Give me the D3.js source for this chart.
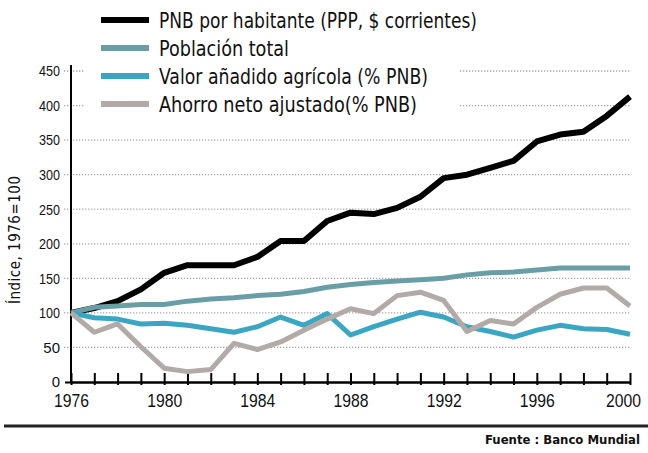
<!DOCTYPE html>
<html>
<head>
<meta charset="utf-8">
<script src="https://cdn.jsdelivr.net/npm/d3@7"></script>
<style>
  body { margin: 0; background: #fff; }
  svg { display: block; font-family: 'Liberation Sans Narrow', 'DejaVu Sans Condensed', sans-serif; }
</style>
</head>
<body>
<div id="chart"></div>
<script>
// data (index, 1976 = 100)
var years = [1976,1977,1978,1979,1980,1981,1982,1983,1984,1985,1986,1987,1988,1989,1990,1991,1992,1993,1994,1995,1996,1997,1998,1999,2000];
var pnb = [100,107,117,134,158,169,169,169,181,204,204,233,245,243,252,268,295,300,310,320,348,358,362,385,413];
var poblacion = [100,108,110,112,112,117,120,122,125,127,131,137,141,144,146,148,150,155,158,159,162,165,165,165,165];
var valor = [100,93,91,84,85,82,77,72,80,94,82,99,68,80,91,101,94,80,73,65,75,82,77,76,69];
var ahorro = [100,72,84,51,20,15,18,56,47,58,75,91,106,99,125,130,118,73,89,84,108,127,136,136,110];
var yTicks = [0,50,100,150,200,250,300,350,400,450];
var xLabels = [1976,1980,1984,1988,1992,1996,2000];

var series = [
  {name: "PNB por habitante (PPP, $ corrientes)", values: pnb, color: "#000", width: 6, tl: 318},
  {name: "Población  total", values: poblacion, color: "#6a9ea7", width: 5, tl: 130},
  {name: "Valor añadido agrícola (% PNB)", values: valor, color: "#3ba6c2", width: 5, tl: 269},
  {name: "Ahorro neto ajustado(% PNB)", values: ahorro, color: "#b2aaa7", width: 5, tl: 258}
];

var W = 648, H = 453;
var svg = d3.select("#chart").append("svg")
    .attr("width", W)
    .attr("height", H);

var x = d3.scaleLinear().domain([1976, 2000]).range([71, 630]);
var y = d3.scaleLinear().domain([0, 450]).range([382, 71]);

// dotted gridlines
svg.append("g").selectAll("line")
    .data(yTicks.filter(function(d) { return d > 0; }))
    .enter().append("line")
    .attr("x1", 64).attr("x2", 630)
    .attr("y1", function(d) { return y(d); })
    .attr("y2", function(d) { return y(d); })
    .attr("stroke", "#a8a8a8")
    .attr("stroke-width", 1.3)
    .attr("stroke-dasharray", "1.3,1.7");

// y axis
var yAxis = svg.append("g")
    .attr("transform", "translate(71,0)")
    .call(d3.axisLeft(y).tickValues(yTicks).tickSize(6).tickPadding(5));
yAxis.select(".domain").remove();
yAxis.selectAll(".tick line").attr("stroke", function(d) { return d === 0 ? "#000" : "none"; }).attr("stroke-width", 2);
yAxis.selectAll("text").style("font-size", "15px").attr("fill", "#111").style("font-family", null)
    .attr("textLength", 21).attr("lengthAdjust", "spacingAndGlyphs");
yAxis.selectAll("text").filter(function(d) { return d < 100; }).attr("textLength", null);
svg.append("line")
    .attr("x1", 71).attr("x2", 71)
    .attr("y1", 65).attr("y2", 383)
    .attr("stroke", "#000").attr("stroke-width", 2);

// x axis
var xAxis = svg.append("g")
    .attr("transform", "translate(0,382)")
    .call(d3.axisBottom(x).tickValues(years).tickSizeInner(-9).tickSizeOuter(0).tickPadding(12)
      .tickFormat(function(d) { return xLabels.indexOf(d) >= 0 ? d : ""; }));
xAxis.select(".domain").attr("stroke", "#000").attr("stroke-width", 2.5);
xAxis.selectAll(".tick line").attr("y1", 3).attr("stroke", "#000").attr("stroke-width", 2);
xAxis.selectAll("text").style("font-size", "19px").attr("fill", "#111").style("font-family", null)
    .attr("textLength", function(d) { return xLabels.indexOf(d) >= 0 ? 35 : null; })
    .attr("lengthAdjust", "spacingAndGlyphs")
    .attr("dx", function(d) { return d === 2000 ? -7 : 0; });

// axis title
svg.append("text")
    .attr("transform", "translate(20,240) rotate(-90)")
    .attr("text-anchor", "middle")
    .attr("textLength", 128)
    .attr("lengthAdjust", "spacing")
    .style("font-size", "15px")
    .attr("fill", "#111")
    .text("Índice, 1976=100");

// lines
var line = d3.line()
    .x(function(d, i) { return x(years[i]); })
    .y(function(d) { return y(d); });

svg.append("g").selectAll("path")
    .data(series)
    .enter().append("path")
    .attr("d", function(s) { return line(s.values); })
    .attr("fill", "none")
    .attr("stroke", function(s) { return s.color; })
    .attr("stroke-width", function(s) { return s.width; })
    .attr("stroke-linejoin", "round");

// legend, white box covers the top gridlines
var legend = svg.append("g");
legend.append("rect")
    .attr("x", 84).attr("y", 0)
    .attr("width", 376).attr("height", 118)
    .attr("fill", "#fff");
var item = legend.selectAll(".item")
    .data(series)
    .enter().append("g")
    .attr("transform", function(s, i) { return "translate(0," + (20 + i * 28) + ")"; });
item.append("line")
    .attr("x1", 101).attr("x2", 149)
    .attr("stroke", function(s) { return s.color; })
    .attr("stroke-width", 6);
item.append("text")
    .attr("x", 159)
    .attr("dy", "0.36em")
    .attr("textLength", function(s) { return s.tl; })
    .attr("lengthAdjust", "spacingAndGlyphs")
    .style("font-size", "21px")
    .attr("fill", "#111")
    .text(function(s) { return s.name; });

// source
svg.append("line")
    .attr("x1", 4).attr("x2", W)
    .attr("y1", 426).attr("y2", 426)
    .attr("stroke", "#222").attr("stroke-width", 3);
svg.append("text")
    .attr("x", 640).attr("y", 444)
    .attr("text-anchor", "end")
    .style("font-size", "13px")
    .style("font-weight", "bold")
    .attr("fill", "#111")
    .text("Fuente : Banco Mundial");
</script>
</body>
</html>
